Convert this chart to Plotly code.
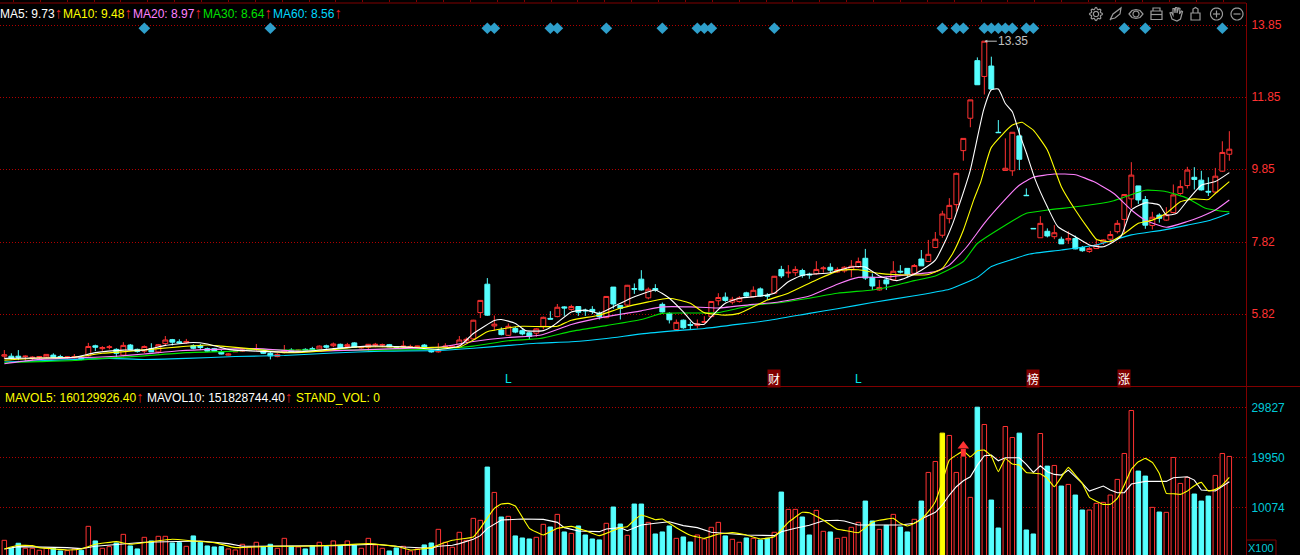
import math
import plotly.graph_objects as go

W, H = 1300, 555
RED = "#ff3232"; CYAN = "#55ffff"; DARK = "#800000"; GRID = "#b00000"

# k = 0..175 : open, high, low, close
opens = [4.65,4.65,4.65,4.64,4.61,4.62,4.63,4.68,4.64,4.62,4.62,4.62,4.66,4.94,4.86,4.89,4.84,4.68,4.96,4.84,
 4.79,4.86,4.77,5.00,5.11,5.05,5.02,4.94,4.94,4.86,4.86,4.77,4.68,4.77,4.79,4.82,4.83,4.78,4.73,4.64,
 4.76,4.82,4.79,4.84,4.86,4.85,4.94,4.94,4.98,4.92,5.02,4.88,4.90,4.95,4.96,4.97,4.91,4.91,4.90,4.91,
 4.96,4.82,4.77,4.90,4.90,4.96,5.08,5.13,5.86,6.65,5.49,5.38,5.23,5.42,5.36,5.30,5.29,5.48,5.70,5.75,
 6.02,5.95,6.03,5.93,5.95,5.84,5.72,6.57,6.06,6.07,6.53,6.79,6.27,6.53,6.09,5.84,5.39,5.65,5.53,5.50,
 5.59,5.75,6.19,6.29,6.15,6.17,6.41,6.30,6.52,6.34,6.40,7.06,6.96,6.97,7.03,6.93,6.94,7.08,7.12,6.99,
 7.02,7.06,7.13,7.37,6.84,6.49,6.77,6.77,7.01,7.09,6.95,7.35,7.28,7.67,8.01,8.47,8.86,10.36,11.26,12.86,
 12.42,12.71,10.87,9.81,9.80,10.77,9.12,8.20,7.94,8.12,7.97,7.90,7.88,7.92,7.67,7.56,7.64,7.80,7.90,8.11,
 8.45,9.02,9.38,9.00,8.28,8.57,8.43,8.64,9.17,9.39,9.62,9.54,9.23,9.21,9.79,10.26]
highs = [4.82,4.73,4.82,4.67,4.65,4.65,4.70,4.73,4.69,4.65,4.71,4.65,5.02,4.97,4.93,4.96,4.87,5.04,4.99,4.86,
 4.95,5.01,4.99,5.21,5.13,5.12,5.13,4.98,4.99,4.89,4.88,4.82,4.73,4.82,4.84,4.87,4.99,4.82,4.77,4.73,
 4.96,4.87,4.84,4.87,4.91,4.95,4.97,5.03,5.00,5.02,5.04,4.92,4.99,5.02,5.00,4.99,4.93,5.08,4.97,4.94,
 4.99,4.84,5.01,5.01,4.96,5.21,5.17,5.66,6.21,6.82,5.78,5.45,5.56,5.47,5.43,5.32,5.43,5.75,5.90,6.10,
 6.04,6.08,6.04,5.97,6.04,5.89,6.32,6.57,6.07,6.63,6.67,7.04,6.56,6.65,6.14,5.87,5.67,5.67,5.61,5.67,
 5.76,6.18,6.40,6.42,6.30,6.32,6.44,6.59,6.56,6.40,6.88,7.16,7.18,7.15,7.08,6.97,7.29,7.15,7.23,7.12,
 7.15,7.32,7.39,7.63,6.95,6.77,6.84,7.29,7.18,7.09,7.21,7.60,7.88,8.10,8.69,9.04,9.75,10.70,11.77,12.95,
 13.40,12.97,11.21,10.70,10.87,11.00,9.31,8.20,8.54,8.20,8.29,7.97,8.12,8.00,7.71,7.69,7.88,7.90,8.13,8.43,
 9.15,10.04,9.38,9.10,8.66,8.62,8.79,9.42,9.54,9.91,9.90,9.80,9.62,9.88,10.62,10.90]
lows = [4.58,4.56,4.54,4.51,4.53,4.54,4.59,4.59,4.60,4.58,4.59,4.54,4.64,4.79,4.80,4.84,4.62,4.64,4.82,4.75,
 4.73,4.77,4.73,4.96,4.95,4.99,4.99,4.84,4.82,4.77,4.77,4.70,4.67,4.77,4.77,4.79,4.80,4.71,4.56,4.62,
 4.73,4.75,4.75,4.79,4.80,4.83,4.86,4.90,4.87,4.90,4.88,4.86,4.77,4.90,4.90,4.90,4.88,4.89,4.88,4.89,
 4.88,4.75,4.75,4.88,4.86,4.93,5.03,5.12,5.71,5.77,5.36,5.23,5.21,5.29,5.23,5.12,5.19,5.40,5.68,5.73,
 5.77,5.91,5.77,5.77,5.82,5.67,5.71,5.97,5.67,6.04,6.38,6.47,6.23,6.44,5.86,5.56,5.38,5.41,5.40,5.42,
 5.58,5.73,6.06,6.16,6.09,6.14,6.30,6.28,6.30,6.21,6.38,6.82,6.83,6.88,6.83,6.80,6.91,6.97,6.97,6.97,
 6.97,6.84,7.10,6.77,6.49,6.47,6.49,6.75,6.95,6.84,6.93,7.16,7.27,7.65,7.94,8.34,8.66,10.08,11.01,12.19,
 11.92,12.07,10.86,9.81,9.66,9.82,9.11,8.19,7.94,7.95,7.90,7.77,7.77,7.62,7.55,7.52,7.64,7.74,7.83,8.06,
 8.06,8.77,8.88,8.19,8.17,8.36,8.41,8.62,9.13,9.31,9.28,9.25,9.10,9.17,9.77,10.08]
closes = [4.69,4.60,4.62,4.65,4.62,4.64,4.70,4.62,4.61,4.63,4.64,4.56,4.92,4.90,4.89,4.91,4.73,4.95,4.84,4.78,
 4.92,4.77,4.97,5.10,5.04,5.02,5.06,4.87,4.89,4.79,4.79,4.71,4.71,4.79,4.82,4.85,4.86,4.73,4.66,4.70,
 4.81,4.77,4.82,4.82,4.83,4.93,4.90,4.99,4.88,4.97,4.90,4.90,4.98,4.98,4.97,4.91,4.90,4.93,4.92,4.93,
 4.90,4.77,4.80,4.93,4.93,5.10,5.12,5.65,6.20,5.79,5.54,5.25,5.48,5.32,5.27,5.20,5.41,5.73,5.68,6.01,
 5.99,6.03,5.87,5.91,5.89,5.75,6.31,6.10,5.98,6.62,6.51,6.49,6.51,6.49,5.88,5.66,5.59,5.44,5.51,5.55,
 5.61,6.17,6.28,6.20,6.23,6.27,6.32,6.48,6.32,6.32,6.87,6.88,6.98,7.06,6.89,6.91,7.06,7.10,7.04,7.06,
 7.12,7.15,7.28,6.82,6.60,6.56,6.66,7.01,6.99,6.93,7.17,7.16,7.48,7.90,8.60,8.84,9.73,10.70,11.77,12.19,
 13.40,12.07,10.86,9.87,10.87,10.12,9.11,8.19,8.34,7.99,8.08,7.77,7.92,7.63,7.58,7.64,7.74,7.88,8.03,8.34,
 9.14,9.68,8.99,8.29,8.51,8.48,8.58,9.13,9.36,9.82,9.56,9.27,9.21,9.65,10.31,10.40]
volumes = [3560,1980,2970,1980,1980,1590,1980,1980,1450,1520,1850,1590,6320,3430,1980,2310,3030,4740,2440,1850,
 4150,3430,4350,4350,3030,3100,2370,4420,3170,2440,2240,2310,1850,1650,2770,2240,3170,2310,2770,1980,
 3950,2370,2240,1850,2500,3170,2310,3430,2500,3430,2570,1980,3950,2640,1980,1450,2050,2370,1450,1850,
 2640,3030,5730,3170,2180,5140,3560,7900,7510,18040,13030,8170,8300,4420,4020,3820,4150,6720,6190,8690,
 5210,4940,6390,4610,3820,3630,6920,10140,6780,4550,10730,10730,7110,4810,5210,6390,3950,4220,3230,4610,
 3820,6130,7110,4420,3760,3170,4020,3950,3630,3950,5140,13100,9680,9680,8170,4610,9480,5340,5210,3950,
 4150,6130,7110,11320,7380,5730,6520,8690,6190,5210,7710,11320,16980,19150,24750,24290,16980,20210,12050,29880,
 26460,11520,5990,26060,23890,24750,5600,4810,24680,18230,18360,14290,14610,12510,9550,9550,10860,11060,12510,15600,
 20730,29220,17250,16260,10074,9150,9090,19940,14810,15990,12710,11320,12310,16390,20730,20140]
yellow_bars = [134]

ma5_k = [0,5,10,13,17,20,23,27,29,32,36,42,47,52,57,62,65,67,68.5,70,71,73,74.5,77,78.5,81,83,85,87.5,89.5,91,93,95,97,98.5,100,101,103,105,108,110,112,114,118,121,123,125,127.5,129,131,133,134.5,135.5,136.5,138,139.9,141,142,143,144,145,146,147.3,149,150.5,153,155,157,159.5,161,163,165,166,167.5,169,171,173,175]
ma5 = [4.59,4.60,4.62,4.75,4.82,4.82,4.95,5.03,4.99,4.84,4.79,4.77,4.86,4.93,4.91,4.84,4.93,5.28,5.47,5.64,5.67,5.56,5.36,5.36,5.51,5.88,5.93,5.84,6.07,6.26,6.37,6.49,6.26,5.88,5.56,5.54,5.75,6.12,6.26,6.32,6.40,6.72,6.90,6.97,7.13,7.13,6.88,6.75,6.84,7.04,7.32,7.88,8.34,8.90,9.82,11.49,12.05,12.07,11.67,11.44,10.84,10.30,9.54,8.80,8.25,7.97,7.74,7.69,7.97,8.71,8.91,8.85,8.57,8.62,8.97,9.40,9.50,9.75]
ma10_k = [0,5,10,14,18,22,25,29,31,35,40,45,50,55,60,62,65,67,69,71.5,74,79,81,85,88,92,95,98,100,103,105,109,112,116,119.5,122,125,127,132,134,135.5,137,138.5,139.5,141,144,145.4,146,147,149,151,153,155,156,158,160,162,164,166,168,170,172,173,175]
ma10 = [4.54,4.60,4.62,4.73,4.79,4.86,4.91,4.96,4.93,4.86,4.75,4.79,4.90,4.91,4.89,4.90,4.90,5.10,5.33,5.42,5.48,5.48,5.65,5.79,5.98,6.16,6.26,6.12,5.86,5.79,5.84,6.21,6.40,6.77,7.04,7.05,6.95,6.92,6.92,7.09,7.51,8.15,9.00,9.50,10.45,11.07,11.15,11.07,10.93,10.38,9.36,8.71,8.15,7.90,7.83,8.06,8.34,8.43,8.62,8.94,9.02,9.00,9.17,9.50]
ma20_k = [0,4,8,13,16,20,25,30,36,42,50,56,62,67,72,76.5,81,86,91,94,98,102,107,110,115,119,122,125,129,133,135,137.5,140,142.5,145,147,150,153,155.6,158.5,161,163,166,169,171,173,175]
ma20 = [4.44,4.54,4.59,4.62,4.65,4.71,4.80,4.84,4.86,4.79,4.82,4.86,4.90,5.06,5.17,5.23,5.53,5.75,5.91,6.02,6.02,5.99,6.09,6.14,6.32,6.65,6.84,6.84,6.91,7.00,7.18,7.69,8.34,8.90,9.40,9.62,9.71,9.69,9.50,9.17,8.71,8.43,8.23,8.39,8.53,8.71,8.99]
ma30_k = [0,5,10,14,20,26,33,36,40,47,54,62,67,72,76.5,81,86,91,94,98,102,107,110,115,119,124,126,130,133,137,139,143,146,149,154,158.5,163,166,169,171.6,173.5,175]
ma30 = [4.47,4.50,4.53,4.59,4.66,4.75,4.79,4.84,4.82,4.82,4.82,4.85,4.93,5.08,5.14,5.34,5.50,5.67,5.84,5.85,5.86,6.07,6.12,6.26,6.40,6.49,6.56,6.75,6.88,7.28,7.78,8.29,8.62,8.71,8.82,8.97,9.26,9.22,9.04,8.76,8.69,8.66]
ma60_k = [0,5,10,15,20,26,33,40,47,54,62,67,72,76,81,86,91,96,100,105,110,115,119,124,130,135,139,141,144,146.5,151,156,158.5,161,165.7,169,172,175]
ma60 = [4.49,4.52,4.56,4.59,4.56,4.59,4.64,4.67,4.74,4.79,4.81,4.87,4.95,5.01,5.05,5.14,5.27,5.36,5.42,5.54,5.67,5.84,5.97,6.14,6.33,6.51,6.84,7.14,7.34,7.49,7.60,7.74,7.88,8.02,8.16,8.29,8.41,8.62]

mavol5_k = [0,2,4,5,9,11,13,16,18,21,24,27,30,33,38,42,47,52,56,58,61,62,64,67,68,70,71,72,73,75,77,79,81,83,85,88,89,90,91,93,94,96,98,100,102,104,106,108,110,112,114,115,117,119,120,122,124,125,127,128,129,130,131,132,133,134,135,137,138,139,140,141,142,143,144,145,146,148,149,150,152,153,154,155,157,158,159,160,161,162,163,164,165,166,167,168,169,170,171,172,173,174,175]
mavol5 = [1850,2570,2500,2110,1650,1850,2770,3300,2770,3300,3760,3430,3100,2110,2370,2370,2570,2900,2370,1650,2110,2640,3560,4220,5930,9880,10730,10860,10340,5930,4610,5930,6320,5470,4480,6060,6260,7570,8560,7640,7770,6060,4550,3950,4810,5070,4610,3820,4280,7110,9090,9020,7570,5730,5530,5070,7110,7510,7900,6920,6390,6920,7710,9220,11190,15140,19420,21190,20070,21260,21390,20210,17110,19750,18630,18430,16980,16720,15800,14150,17970,16460,14810,12050,10670,10670,11850,14480,17640,19090,19750,18960,16790,12840,12770,12640,13300,14350,15010,13300,13630,14480,15990]
mavol10_k = [0,2,9,11,13,18,20,28,32,34,38,47,53,57,61,62,64,65,67,68,69,71,74,77,79,80,82,85,86,88,89,91,93,95,97,99,101,106,110,111,113,115,117,119,120,122,125,128,130,131,133,134,135,136,137,138,139,140,141,142,143,145,146,147,148,149,150,151,152,153,154,155,157,158,159,160,161,163,166,167,169,170,171,173,174,175]
mavol10 = [1850,2310,2110,1910,2370,2840,3170,3430,2900,2370,2440,2500,2770,2240,1980,2370,2570,2900,3760,4480,5930,7570,7770,7700,7110,6060,5400,5270,5800,6060,5470,6590,6920,7240,6460,6060,5140,4610,4480,5270,5930,6520,7440,7510,7380,6590,6590,6590,6920,7770,9090,10540,12510,14150,15340,16130,18430,20270,20400,19280,19880,19880,18560,16980,18300,17110,16590,16460,17440,16130,14810,13300,14290,13490,12970,12970,14680,15210,15210,15930,16130,15470,13490,13300,14150,15140]

flag_k = [20,38,69,70,78,79,86,94,99,100,101,110,134,136,137,140,141,142,143,144,146,147,160,163,174]
flag_level = 13.76
price_ticks = [13.85, 11.85, 9.85, 7.82, 5.82]
vol_ticks = [29827, 19950, 10074]
top_ticks = [1.3 + 3.84 * i for i in range(46)]
signal_k = 137
signal_stem = [20210, 21600]
signal_head = 22200

ma_legend = [("MA5: 9.73", "#ffffff", 0), ("MA10: 9.48", "#ffff00", 63), ("MA20: 8.97", "#ff80ff", 133),
             ("MA30: 8.64", "#00e000", 203), ("MA60: 8.56", "#00d8ff", 273)]
vol_legend = [("MAVOL5: 160129926.40", "#ffff00", 5, True), ("MAVOL10: 151828744.40", "#ffffff", 147, True),
              ("STAND_VOL: 0", "#ffff00", 296, False)]
event_labels = [("L", 72, False), ("财", 110, True), ("L", 122, False), ("榜", 147, True), ("涨", 160, True)]

k = list(range(len(opens)))
up = [c >= o for o, c in zip(opens, closes)]

px = lambda x: x / W
py = lambda y: 1 - y / H

fig = go.Figure()
fig.add_trace(go.Candlestick(
    x=k, open=opens, high=highs, low=lows, close=closes, xaxis="x", yaxis="y",
    increasing=dict(line=dict(color=RED, width=1), fillcolor="#000000"),
    decreasing=dict(line=dict(color=CYAN, width=1), fillcolor=CYAN),
    whiskerwidth=0, hoverinfo="skip"))
for kk, vv, col in [(ma60_k, ma60, "#00d8ff"), (ma30_k, ma30, "#00e000"), (ma20_k, ma20, "#ff80ff"),
                    (ma10_k, ma10, "#ffff00"), (ma5_k, ma5, "#ffffff")]:
    fig.add_trace(go.Scatter(x=kk, y=vv, mode="lines", xaxis="x", yaxis="y", hoverinfo="skip",
                             line=dict(color=col, width=1.1, shape="spline", smoothing=0.5)))
fig.add_trace(go.Scatter(x=flag_k, y=[flag_level] * len(flag_k), mode="markers", xaxis="x", yaxis="y",
                         hoverinfo="skip", marker=dict(symbol="diamond", size=9, color="#2e9fcb")))

bar_fill = ["#ffff00" if i in yellow_bars else ("#000000" if up[i] else CYAN) for i in k]
bar_line = ["#ffff00" if i in yellow_bars else (RED if up[i] else CYAN) for i in k]
fig.add_trace(go.Bar(x=k, y=volumes, width=0.64, xaxis="x2", yaxis="y2", hoverinfo="skip",
                     marker=dict(color=bar_fill, line=dict(color=bar_line, width=1))))
fig.add_trace(go.Scatter(x=mavol10_k, y=mavol10, mode="lines", xaxis="x2", yaxis="y2", hoverinfo="skip",
                         line=dict(color="#ffffff", width=1.1)))
fig.add_trace(go.Scatter(x=mavol5_k, y=mavol5, mode="lines", xaxis="x2", yaxis="y2", hoverinfo="skip",
                         line=dict(color="#ffff00", width=1.1, shape="spline", smoothing=0.3)))
fig.add_trace(go.Scatter(x=[signal_k, signal_k], y=signal_stem, mode="lines", xaxis="x2", yaxis="y2", hoverinfo="skip",
                         line=dict(color=RED, width=5)))
fig.add_trace(go.Scatter(x=[signal_k], y=[signal_head], mode="markers", xaxis="x2", yaxis="y2", hoverinfo="skip",
                         marker=dict(symbol="triangle-up", size=10, color=RED)))

TXT = "Liberation Sans, Arial, sans-serif"
ann = []
def arrow():
    return "<span style='color:#e02020;font-size:15px'>↑</span>"
for t, c, x in ma_legend:
    ann.append(dict(xref="paper", yref="paper", x=px(x - 2), y=py(12.5), xanchor="left", yanchor="middle",
                    showarrow=False, text="%s%s" % (t, arrow()), font=dict(color=c, size=12, family=TXT)))
for t, c, x, a in vol_legend:
    ann.append(dict(xref="paper", yref="paper", x=px(x - 2), y=py(396.5 if a else 397.5), xanchor="left", yanchor="middle",
                    showarrow=False, text=t + (arrow() if a else ""), font=dict(color=c, size=12, family=TXT)))
for t, kk, boxed in event_labels:
    ann.append(dict(xref="x", yref="paper", x=kk, y=py(378.5), xanchor="center", yanchor="middle", showarrow=False,
                    text=t, bgcolor="#800000" if boxed else None, borderpad=0,
                    font=dict(color="#ffffff" if boxed else "#00e8e8", size=12,
                              family="Noto Sans CJK SC" if boxed else TXT)))
ann.append(dict(xref="x", yref="y", x=140, y=13.40, ax=29, ay=0, axref="pixel", ayref="pixel", text="13.35",
                showarrow=True, arrowhead=2, arrowsize=0.6, arrowwidth=1, arrowcolor="#c0c0c0",
                font=dict(color="#c0c0c0", size=12, family=TXT)))
ann.append(dict(xref="paper", yref="paper", x=px(1261), y=py(547.5), xanchor="center", yanchor="middle", showarrow=False,
                text="X100", borderpad=0, font=dict(color="#00c8d8", size=11, family=TXT)))

def path(points, close=False):
    s = "M" + " L".join("%.5f,%.5f" % (px(a), py(b)) for a, b in points)
    return s + (" Z" if close else "")

ICON = dict(color="#9a9a9a", width=1.2)
def circle_pts(cx, cy, r, n=28, ry=None):
    return [(cx + r * math.cos(2 * math.pi * i / n), cy + (ry or r) * math.sin(2 * math.pi * i / n)) for i in range(n)]

icons = []
gear = [(1096 + (5.6 + 0.9 * math.cos(8 * 2 * math.pi * i / 48)) * math.cos(2 * math.pi * i / 48),
         14 + (5.6 + 0.9 * math.cos(8 * 2 * math.pi * i / 48)) * math.sin(2 * math.pi * i / 48)) for i in range(48)]
icons.append(path(gear, True)); icons.append(path(circle_pts(1096, 14, 2.6), True))
icons.append(path([(1110, 20), (1113, 14), (1121, 8), (1120, 14), (1115, 18), (1111, 19)], True))
icons.append(path([(1129, 14), (1132, 10.5), (1136, 9.5), (1140, 10.5), (1143, 14), (1140, 17.5), (1136, 18.5), (1132, 17.5)], True))
icons.append(path(circle_pts(1136, 14, 3), True))
icons.append(path([(1151, 11), (1162, 11), (1162, 19.5), (1151, 19.5)], True))
icons.append(path([(1151, 14.5), (1162, 14.5)]))
icons.append(path([(1153, 11), (1153, 8), (1160, 8), (1160, 11)]))
icons.append(path([(1172, 19), (1170, 13), (1171.5, 12.5), (1173, 15), (1173, 8.5), (1174.5, 8.5), (1175, 13), (1175.5, 7.5), (1177, 7.5), (1177, 13), (1178.5, 8), (1180, 8.5), (1179.5, 14), (1181.5, 11), (1182.5, 11.5), (1180.5, 19), (1177, 21)], True))
icons.append(path([(1191, 13), (1200, 13), (1200, 20), (1191, 20)], True))
icons.append(path([(1193, 13), (1193, 9), (1195.5, 7.5), (1198, 9), (1198, 13)]))
icons.append(path(circle_pts(1216.5, 14, 6), True))
icons.append(path([(1213, 14), (1220, 14)])); icons.append(path([(1216.5, 10.5), (1216.5, 17.5)]))
icons.append(path(circle_pts(1237, 14, 6), True)); icons.append(path([(1233.5, 14), (1240.5, 14)]))

shapes = [dict(type="path", xref="paper", yref="paper", path=p, line=ICON, layer="above") for p in icons]
for (x0, y0, x1, y1) in [(0, 3, 1246, 3), (0, 386.5, 1300, 386.5), (1246.5, 3, 1246.5, 555),
                         (1247, 540, 1276, 540), (1276, 540, 1276, 555)]:
    shapes.append(dict(type="line", xref="paper", yref="paper", x0=px(x0), y0=py(y0), x1=px(x1), y1=py(y1),
                       line=dict(color=DARK, width=1), layer="below"))

# pixel anchors: x = 4.33 + 7*k, price 13.85 at y=25 with 36 px per unit, volume 10074 at y=507.3
xr = [-4.33 / 7, (1246 - 4.33) / 7]
common_x = dict(domain=[0, 1246 / W], range=xr, showgrid=False, zeroline=False, rangeslider=dict(visible=False),
                fixedrange=True)
grid = dict(showgrid=True, gridcolor=GRID, griddash="1px,2px", gridwidth=1, zeroline=False, side="right",
            ticks="outside", ticklen=2, tickcolor="rgba(0,0,0,0)", showline=False, fixedrange=True)

fig.update_layout(
    width=W, height=H, margin=dict(l=0, r=0, t=0, b=0), paper_bgcolor="#000000", plot_bgcolor="#000000",
    showlegend=False, autosize=False, boxgap=0.3, boxgroupgap=0, bargap=0.3,
    xaxis=dict(common_x, anchor="y", side="top", tickmode="array", tickvals=top_ticks, ticktext=[""] * len(top_ticks),
               ticks="outside", ticklen=3, tickcolor=DARK, showticklabels=False),
    xaxis2=dict(common_x, anchor="y2", showticklabels=False, ticks=""),
    yaxis=dict(grid, domain=[1 - 386 / H, 1 - 3 / H], range=[13.85 - 361 / 36, 13.85 + 22 / 36], anchor="x",
               tickmode="array", tickvals=price_ticks, ticktext=["%.2f" % v for v in price_ticks],
               tickfont=dict(color=RED, size=12, family=TXT)),
    yaxis2=dict(grid, domain=[0, 1 - 386.5 / H], range=[10074 - 47.7 * 197.5, 10074 + 121 * 197.5], anchor="x2",
                tickmode="array", tickvals=vol_ticks, ticktext=[str(v) for v in vol_ticks],
                tickfont=dict(color="#00c8d8", size=12, family=TXT)),
    annotations=ann, shapes=shapes,
)
fig.write_html("out.html", config=dict(displayModeBar=False, staticPlot=True),
               post_script="document.body.style.margin='0';document.body.style.background='#000';document.body.style.overflow='hidden';")
